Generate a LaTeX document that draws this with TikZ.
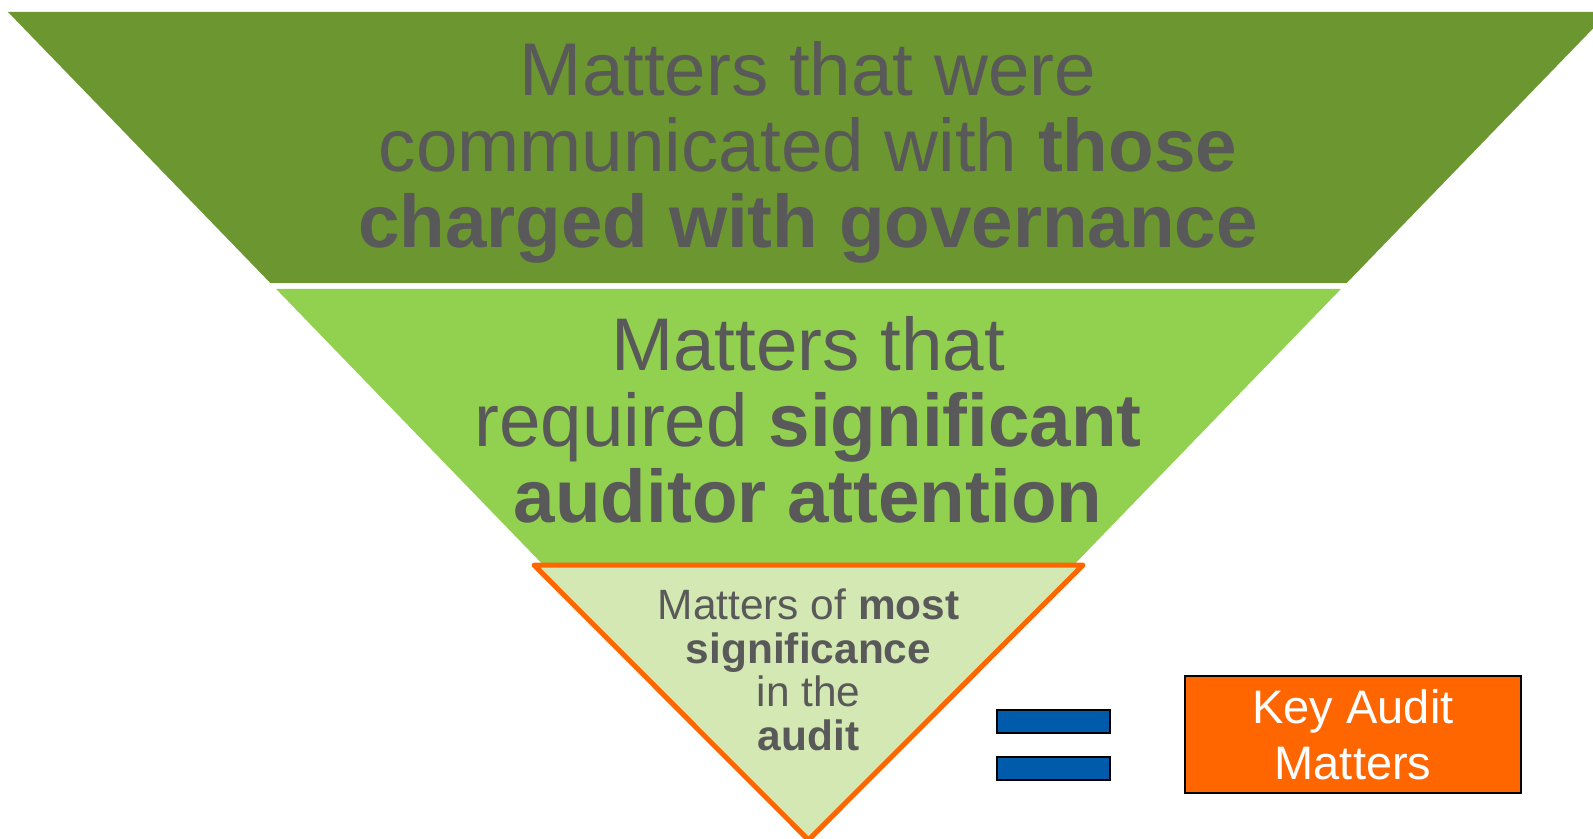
\documentclass[tikz,border=0pt]{standalone}
\usepackage{fontspec}
\setmainfont{Liberation Sans}
\usetikzlibrary{calc}
\definecolor{kamdark}{RGB}{107,150,48}
\definecolor{kamlight}{RGB}{146,208,80}
\definecolor{kampale}{RGB}{211,232,179}
\definecolor{kamorange}{RGB}{255,102,0}
\definecolor{kamblue}{RGB}{0,91,170}
\definecolor{kamgrey}{RGB}{89,89,89}

\begin{document}
\begin{tikzpicture} [
    x=0.5pt, y=-0.5pt,
    every node/.append style={align=center, inner sep=0pt, text=kamgrey},
    layer text/.style={font=\fontsize{37.3}{38}\selectfont},
    eqbar/.style={fill=kamblue, draw=black, line width=0.6pt}
  ]

  \useasboundingbox (0,0) rectangle (1593,839);
  \clip (0,0) rectangle (1593,839);

  \coordinate (tl) at (8,12);
  \coordinate (tr) at (1609,12);
  \coordinate (tip) at (808.5,839);

  % the funnel
  \fill [kamdark] (tl) -- (tr) -- ($(tr)!0.3277!(tip)$) -- ($(tl)!0.3277!(tip)$) -- cycle;
  \fill [kamlight] ($(tl)!0.3349!(tip)$) -- ($(tr)!0.3349!(tip)$) -- ($(tr)!0.68!(tip)$) -- ($(tl)!0.68!(tip)$) -- cycle;
  \draw [kamorange, fill=kampale, line width=2.5pt, line join=round]
    (534,565) -- (1083,565) -- (808.5,840) -- cycle;

  \node [layer text] (tcwg) at (808,152)
    {Matters that were\\communicated with \textbf{those}\\\textbf{charged with governance}};
  \node [layer text] (sig) at (808,420)
    {Matters that\\required \textbf{significant}\\\textbf{auditor attention}};
  \node [font=\fontsize{21.2}{21.8}\selectfont] (most) at (808.5,670)
    {Matters of \textbf{most}\\\textbf{significance}\\in the\\\textbf{audit}};

  % equals sign
  \draw [eqbar] (997,710) rectangle (1110,733);
  \draw [eqbar] (997,757) rectangle (1110,780);

  \node [draw=black, fill=kamorange, text=white, line width=0.6pt,
    minimum width=168pt, minimum height=58.5pt,
    font=\fontsize{23.5}{27.75}\selectfont] (kam) at (1353,734.5) {Key Audit\\Matters};
\end{tikzpicture}
\end{document}
